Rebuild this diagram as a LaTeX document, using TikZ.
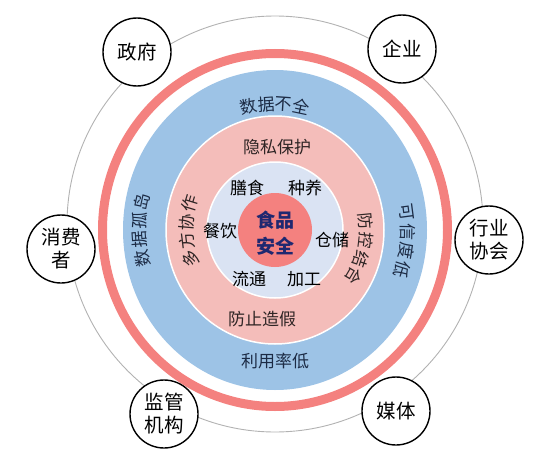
\documentclass[tikz,border=0pt]{standalone}
\usepackage{fontspec}
\setmainfont{Noto Sans CJK SC}
\usetikzlibrary{calc}
\definecolor{ringblue}{HTML}{9DC3E6}
\definecolor{ringpink}{HTML}{F4BDBA}
\definecolor{coreblue}{HTML}{DAE3F3}
\definecolor{corered}{HTML}{F4817F}
\definecolor{corenavy}{HTML}{1F2870}
\definecolor{blueink}{HTML}{1C2B45}
\definecolor{pinkink}{HTML}{2E2424}
\begin{document}
\begin{tikzpicture}[x=1pt,y=1pt,
    actor/.style={circle,draw,fill=white,line width=1.4pt,minimum size=68pt,inner sep=0pt,align=center,font=\fontsize{19.5}{23}\selectfont},
    ringtxt/.style={inner sep=0pt,font=\fontsize{17}{18}\selectfont}]
    \useasboundingbox (0,0) rectangle (554,451);
    \coordinate (C) at (275,221);
    % outer track and rings
    \draw[gray!60,line width=0.9pt] (275,227) circle (208);
    \draw[corered,line width=9pt] (C) ellipse [x radius=172.5,y radius=176.5];
    \fill[ringblue] (C) ellipse [x radius=152,y radius=160];
    \filldraw[fill=ringpink,draw=white,line width=1.5pt] (C) ellipse [x radius=109,y radius=114];
    \filldraw[fill=coreblue,draw=white,line width=1.5pt] (C) circle (68);
    \fill[corered] (C) circle (37);
    % stakeholders
    \node[actor] (gov) at (137,399) {政府};
    \node[actor] (firm) at (402,402) {企业};
    \node[actor] (cons) at (61,202) {消费\\者};
    \node[actor] (assoc) at (489,211) {行业\\协会};
    \node[actor] (reg) at (164,37) {监管\\机构};
    \node[actor] (media) at (396,40) {媒体};
    % blue ring
    \foreach \ch/\a [count=\i] in {数/102,据/94,不/86,全/78}
        \node[ringtxt,text=blueink,rotate=\a-90] (top-\i) at ($(C)+(\a:126)$) {\ch};
    \foreach \ch/\a [count=\i] in {数/192,据/184,孤/176,岛/168}
        \node[ringtxt,text=blueink,rotate=\a-90] (left-\i) at ($(C)+(\a:136)$) {\ch};
    \foreach \ch/\a [count=\i] in {可/7.5,信/-0.8,度/-9.1,低/-17.4}
        \node[ringtxt,text=blueink,rotate=\a-90] (right-\i) at ($(C)+(\a:133)$) {\ch};
    \node[ringtxt,text=blueink] (low) at (275,90) {利用率低};
    % pink ring
    \node[ringtxt,text=pinkink] (privacy) at (277,304) {隐私保护};
    \node[ringtxt,text=pinkink] (fake) at (262,132) {防止造假};
    \foreach \ch/\a [count=\i] in {多/199,方/187,协/175,作/163}
        \node[ringtxt,text=pinkink,rotate=\a-90] (coop-\i) at ($(C)+(\a:89)$) {\ch};
    \foreach \ch/\a [count=\i] in {防/5.5,控/-6.5,结/-18.5,合/-30.5}
        \node[ringtxt,text=pinkink,font=\fontsize{16.5}{18}\selectfont,rotate=\a-90] (ctrl-\i) at ($(C)+(\a:91)$) {\ch};
    % inner ring
    \node[ringtxt] (diet) at (247,263) {膳食};
    \node[ringtxt] (farm) at (305,263) {种养};
    \node[ringtxt] (cater) at (220,220) {餐饮};
    \node[ringtxt] (store) at (332,211) {仓储};
    \node[ringtxt] (trade) at (249,172) {流通};
    \node[ringtxt] (proc) at (304,172) {加工};
    \node[inner sep=0pt,align=center,text=corenavy,font=\fontsize{19}{26}\selectfont\bfseries] (food) at (275,218) {食品\\安全};
\end{tikzpicture}
\end{document}
